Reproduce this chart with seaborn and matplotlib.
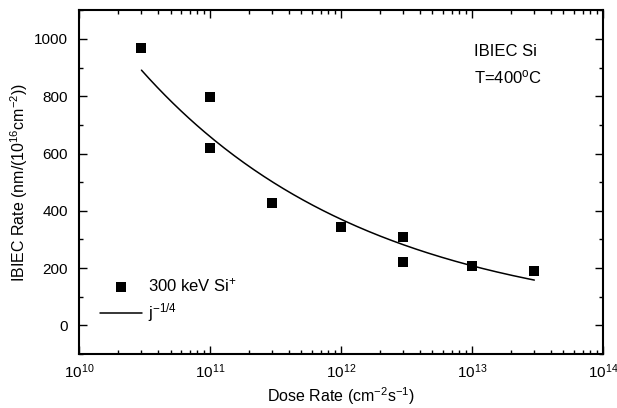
import numpy as np
import pandas as pd
import matplotlib
matplotlib.use("Agg")
import matplotlib.pyplot as plt
import matplotlib.ticker as mticker
import seaborn as sns

# Measured IBIEC regrowth rates vs dose rate (300 keV Si+, 400 C)
dose_rate = [3e10, 1e11, 1e11, 3e11, 1e12, 3e12, 3e12, 1e13, 3e13]
ibiec_rate = [969, 797, 618, 429, 342, 307, 222, 209, 189]
fit_exponent = -0.25
x_ticks = [1e10, 1e11, 1e12, 1e13, 1e14]
y_ticks = [0, 200, 400, 600, 800, 1000]

df = pd.DataFrame({"dose": dose_rate, "rate": ibiec_rate})

# Power-law j^-1/4 fit (prefactor fitted in log space)
logx = np.log(df["dose"].to_numpy())
logy = np.log(df["rate"].to_numpy())
log_pref = np.mean(logy - fit_exponent * logx)
fit_x = np.geomspace(min(dose_rate), max(dose_rate), 200)
fit_y = np.exp(log_pref) * fit_x ** fit_exponent
fit_df = pd.DataFrame({"dose": fit_x, "rate": fit_y})

sns.set_style("ticks")
plt.rcParams["font.family"] = ["Liberation Sans", "DejaVu Sans"]
plt.rcParams["mathtext.fontset"] = "custom"
plt.rcParams["mathtext.rm"] = "Liberation Sans"
plt.rcParams["mathtext.it"] = "Liberation Sans"
for key in ["text.color", "axes.labelcolor", "xtick.color", "ytick.color", "axes.edgecolor"]:
    plt.rcParams[key] = "black"

FS_TEXT = 12
FS_LABEL = 11.5
FS_TICK = 11

fig = plt.figure(figsize=(6.17, 4.08), dpi=100)
ax = fig.add_axes([0.128, 0.132, 0.849, 0.843])

sns.scatterplot(data=df, x="dose", y="rate", marker="s", s=55, color="black",
                edgecolor="black", linewidth=0, ax=ax, label="300 keV Si$^{+}$", zorder=3)
sns.lineplot(data=fit_df, x="dose", y="rate", color="black", linewidth=1.1,
             ax=ax, label="j$^{-1/4}$")

ax.set_xscale("log")
ax.set_xlim(1e10, 1e14)
ax.set_ylim(-100, 1100)
ax.set_xticks(x_ticks)
ax.xaxis.set_major_formatter(mticker.LogFormatterMathtext())
ax.xaxis.set_minor_locator(mticker.LogLocator(base=10, subs=np.arange(2, 10)))
ax.xaxis.set_minor_formatter(mticker.NullFormatter())
ax.set_yticks(y_ticks)
ax.yaxis.set_minor_locator(mticker.MultipleLocator(100))

ax.tick_params(which="both", direction="in", top=True, right=True,
               labelsize=FS_TICK, width=1.0, colors="black")
ax.tick_params(axis="x", which="major", pad=6)
ax.tick_params(axis="y", which="major", pad=8)
ax.tick_params(which="major", length=6)
ax.tick_params(which="minor", length=3)
for sp in ax.spines.values():
    sp.set_linewidth(1.5)
    sp.set_color("black")
    sp.set_visible(True)

ax.set_xlabel("Dose Rate (cm$^{-2}$s$^{-1}$)", fontsize=FS_LABEL, labelpad=3)
ax.set_ylabel("IBIEC Rate (nm/(10$^{16}$cm$^{-2}$))", fontsize=FS_LABEL, labelpad=3)

ax.text(0.754, 0.866, "IBIEC Si", transform=ax.transAxes, fontsize=FS_TEXT)
ax.text(0.754, 0.788, "T=400$^{\\rm o}$C", transform=ax.transAxes, fontsize=FS_TEXT)

ax.legend(loc="lower left", bbox_to_anchor=(0.012, 0.043), frameon=False,
          fontsize=FS_TEXT, handlelength=2.5, handletextpad=0.35, labelspacing=0.45)

fig.savefig("out.png", dpi=100)
